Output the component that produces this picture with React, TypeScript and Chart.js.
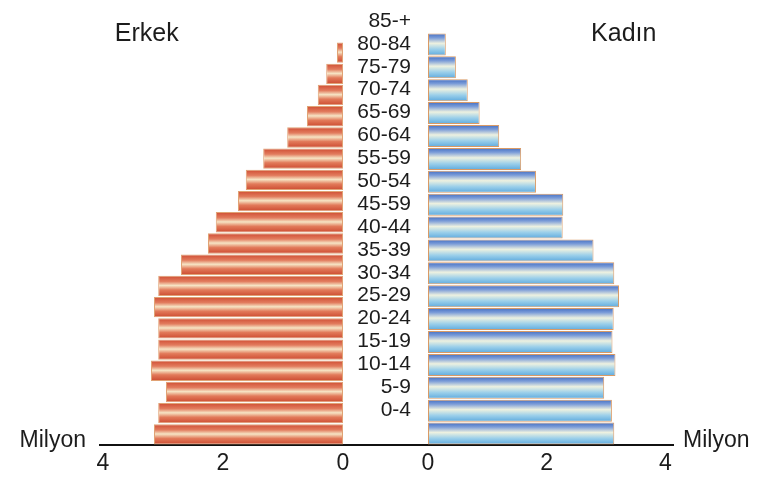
import React, { useEffect, useRef } from 'react';
import { Chart, registerables } from 'chart.js';

Chart.register(...registerables);

// ---- data ----
const ageLabels = ['85-+', '80-84', '75-79', '70-74', '65-69', '60-64', '55-59', '50-54', '45-59', '40-44', '35-39', '30-34', '25-29', '20-24', '15-19', '10-14', '5-9', '0-4'];
// Erkek side shows 19 bars (top to bottom), in millions
const maleValues = [0.1, 0.28, 0.42, 0.6, 0.93, 1.33, 1.62, 1.75, 2.12, 2.25, 2.7, 3.08, 3.15, 3.08, 3.08, 3.2, 2.95, 3.08, 3.15];
// Kadın side shows 18 bars (top to bottom), in millions
const femaleValues = [0.3, 0.47, 0.67, 0.87, 1.2, 1.57, 1.82, 2.28, 2.27, 2.79, 3.14, 3.22, 3.13, 3.11, 3.16, 2.97, 3.1, 3.14];
const axisTicks = [0, 2, 4];
const sideTitles = ['Erkek', 'Kadın'];
const unitLabel = 'Milyon';

const FONT = "'Liberation Sans', Arial, Helvetica, sans-serif";
const TEXT = '#1c1c1c';
const BAR_PCT = 0.96;

const maleStops: [number, string][] = [
  [0, '#cf4c32'],
  [0.28, '#e27c5e'],
  [0.48, '#f6e4c4'],
  [0.7, '#e27a5a'],
  [1, '#cc4a30'],
];
const femaleStops: [number, string][] = [
  [0, '#436ec2'],
  [0.2, '#7b9cd8'],
  [0.45, '#edf1e0'],
  [0.72, '#9bcfea'],
  [1, '#5eaade'],
];

function makeFill(stops: [number, string][], yId: string) {
  return (c: any) => {
    const chart = c.chart;
    const scale = chart.scales[yId];
    if (!chart.chartArea || !scale || c.type !== 'data') return stops[2][1];
    const idx = c.parsed && typeof c.parsed.y === 'number' ? c.parsed.y : c.dataIndex;
    const yc = scale.getPixelForValue(idx);
    const row = Math.abs(scale.getPixelForValue(1) - scale.getPixelForValue(0));
    const half = (row * BAR_PCT) / 2;
    const g = chart.ctx.createLinearGradient(0, yc - half, 0, yc + half);
    stops.forEach(([o, col]) => g.addColorStop(o, col));
    return g;
  };
}

const sideTextPlugin = {
  id: 'sideTexts',
  afterDraw(chart: any) {
    const { ctx, chartArea, scales } = chart;
    ctx.save();
    ctx.fillStyle = TEXT;
    ctx.textBaseline = 'middle';
    ctx.font = `25px ${FONT}`;
    ctx.textAlign = 'center';
    ctx.fillText(sideTitles[0], scales.xL.getPixelForValue(3.27), chartArea.top + 1);
    ctx.fillText(sideTitles[1], scales.xR.getPixelForValue(3.3), chartArea.top + 1);
    ctx.font = `23px ${FONT}`;
    ctx.textAlign = 'right';
    ctx.fillText(unitLabel, chartArea.left - 14, chartArea.bottom - 4);
    ctx.textAlign = 'left';
    ctx.fillText(unitLabel, chartArea.right + 10, chartArea.bottom - 4);
    ctx.restore();
  },
};

const xTickCommon = {
  color: TEXT,
  font: { size: 23, family: FONT, lineHeight: 1 },
  padding: 2,
  autoSkip: false,
  maxRotation: 0,
};

const indexTicks = (values: number[]) => (s: any) => {
  s.ticks = values.map((_, i) => ({ value: i }));
};

export default function App() {
  const ref = useRef<HTMLCanvasElement>(null);

  useEffect(() => {
    document.body.style.margin = '0';
    Chart.defaults.font.family = FONT;
    const chart = new Chart(ref.current as HTMLCanvasElement, {
      type: 'bar',
      data: {
        datasets: [
          {
            label: sideTitles[0],
            data: maleValues.map((v, i) => ({ x: v, y: i })),
            xAxisID: 'xL',
            yAxisID: 'yM',
            grouped: false,
            backgroundColor: makeFill(maleStops, 'yM'),
            borderColor: '#e0a274',
            borderWidth: 1,
            borderSkipped: false,
            barPercentage: BAR_PCT,
            categoryPercentage: 1,
          } as any,
          {
            label: sideTitles[1],
            data: femaleValues.map((v, i) => ({ x: v, y: i })),
            xAxisID: 'xR',
            yAxisID: 'yF',
            grouped: false,
            backgroundColor: makeFill(femaleStops, 'yF'),
            borderColor: '#d99a66',
            borderWidth: 1,
            borderSkipped: false,
            barPercentage: BAR_PCT,
            categoryPercentage: 1,
          } as any,
        ],
      },
      options: {
        indexAxis: 'y',
        animation: false,
        responsive: true,
        maintainAspectRatio: false,
        events: [],
        layout: { padding: { left: 100, right: 90, top: 33, bottom: 0 } },
        plugins: {
          legend: { display: false },
          tooltip: { enabled: false },
        },
        scales: {
          xL: {
            type: 'linear',
            position: 'bottom',
            stack: 'base',
            stackWeight: 243,
            reverse: true,
            min: 0,
            max: 4.05,
            afterBuildTicks: (s: any) => {
              s.ticks = axisTicks.map((v) => ({ value: v }));
            },
            grid: { display: false, drawTicks: true, tickLength: 5 },
            border: { display: true, color: '#111', width: 2 },
            ticks: xTickCommon,
          },
          xMid: {
            type: 'linear',
            position: 'bottom',
            stack: 'base',
            stackWeight: 85,
            min: 0,
            max: 1,
            grid: { display: false, drawTicks: true, tickLength: 5 },
            border: { display: true, color: '#111', width: 2 },
            ticks: { display: false },
          },
          xR: {
            type: 'linear',
            position: 'bottom',
            stack: 'base',
            stackWeight: 245,
            min: 0,
            max: 4.13,
            afterBuildTicks: (s: any) => {
              s.ticks = axisTicks.map((v) => ({ value: v }));
            },
            grid: { display: false, drawTicks: true, tickLength: 5 },
            border: { display: true, color: '#111', width: 2 },
            ticks: xTickCommon,
          },
          yM: {
            type: 'linear',
            display: false,
            reverse: true,
            offset: false,
            min: -0.925,
            max: 18.5,
            afterBuildTicks: indexTicks(maleValues),
            grid: { display: false },
          },
          yF: {
            type: 'linear',
            display: false,
            reverse: true,
            offset: false,
            min: -0.5,
            max: 17.5,
            afterBuildTicks: indexTicks(femaleValues),
            grid: { display: false },
          },
          yLab: {
            type: 'category',
            labels: ageLabels,
            offset: true,
            position: { xMid: 0.8 } as any,
            grid: { display: false, drawTicks: false },
            border: { display: false },
            ticks: {
              color: TEXT,
              font: { size: 21, family: FONT, lineHeight: 1 },
              padding: 0,
              labelOffset: -23.5,
              autoSkip: false,
            },
          },
        } as any,
      },
      plugins: [sideTextPlugin],
    });
    return () => chart.destroy();
  }, []);

  return (
    <div style={{ position: 'relative', width: 763, height: 477, background: '#ffffff' }}>
      <canvas ref={ref} />
    </div>
  );
}
